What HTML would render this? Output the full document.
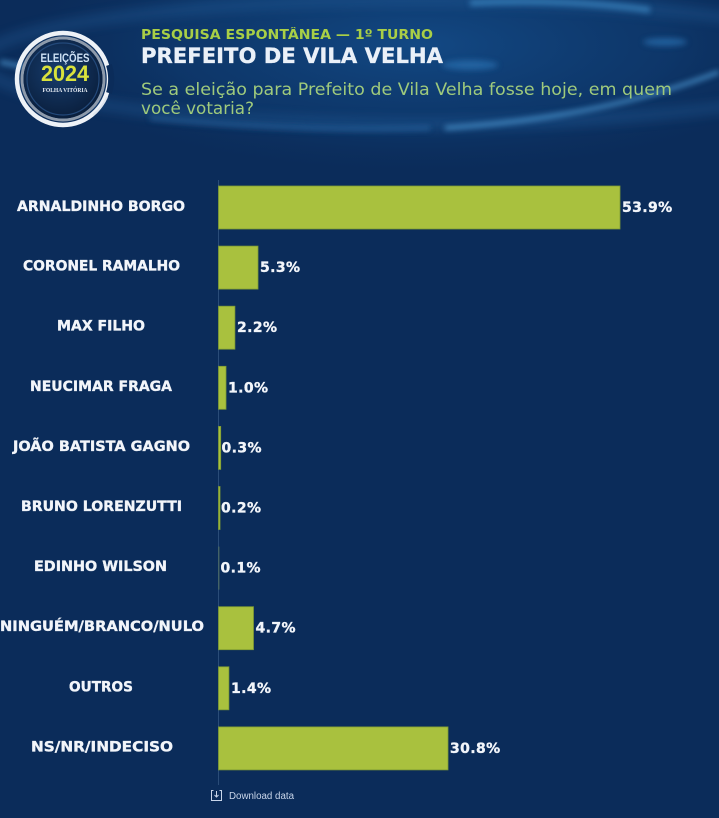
<!DOCTYPE html>
<html>
<head>
<meta charset="utf-8">
<style>
  html,body{margin:0;padding:0;background:#0b2c5a;}
  body{width:719px;height:818px;overflow:hidden;}
  svg{display:block;}
</style>
</head>
<body>
<svg width="719" height="818" viewBox="0 0 719 818" xmlns="http://www.w3.org/2000/svg">
  <defs>
    <radialGradient id="hdr" cx="420" cy="45" r="420" gradientUnits="userSpaceOnUse" gradientTransform="translate(420 45) scale(1 0.32) translate(-420 -45)">
      <stop offset="0" stop-color="#134a86" stop-opacity="0.95"/>
      <stop offset="0.6" stop-color="#0f3d73" stop-opacity="0.6"/>
      <stop offset="1" stop-color="#0b2c5a" stop-opacity="0"/>
    </radialGradient>
    <filter id="blur3" x="-20%" y="-50%" width="140%" height="200%"><feGaussianBlur stdDeviation="3"/></filter>
    <filter id="blur6" x="-20%" y="-80%" width="140%" height="260%"><feGaussianBlur stdDeviation="6"/></filter>
    <radialGradient id="disc" cx="0.45" cy="0.4" r="0.6">
      <stop offset="0" stop-color="#173d6e"/>
      <stop offset="1" stop-color="#0a1f3d"/>
    </radialGradient>
  </defs>

  <!-- background -->
  <rect x="0" y="0" width="719" height="818" fill="#0b2c5a"/>
  <rect x="0" y="0" width="719" height="170" fill="url(#hdr)"/>

  <!-- swooshes -->
  <g filter="url(#blur6)" opacity="0.5">
    <ellipse cx="420" cy="62" rx="440" ry="62" fill="none" stroke="#2f74b5" stroke-width="6"/>
  </g>
  <g filter="url(#blur3)">
    <path d="M445 128 Q 600 118 719 72" fill="none" stroke="#4d97d0" stroke-width="4" opacity="0.85"/>
    <path d="M470 3 Q 560 -2 650 10" fill="none" stroke="#3f8cc8" stroke-width="6" opacity="0.7"/>
    <path d="M0 62 Q 20 66 40 70" fill="none" stroke="#4d97d0" stroke-width="5" opacity="0.7"/>
    <ellipse cx="470" cy="65" rx="28" ry="5" fill="#2a6fb0" opacity="0.7"/>
    <ellipse cx="665" cy="42" rx="22" ry="4" fill="#2a6fb0" opacity="0.7"/>
    <path d="M150 118 Q 300 132 430 128" fill="none" stroke="#2d6eac" stroke-width="4" opacity="0.6"/>
  </g>

  <!-- logo -->
  <g transform="translate(63,79)">
    <circle r="46" fill="none" stroke="#eef2f7" stroke-width="4.5"/>
    <circle r="41" fill="none" stroke="#8d9aab" stroke-width="3"/>
    <circle r="39.5" fill="url(#disc)"/>
    <circle r="36" fill="none" stroke="#23497a" stroke-width="1.2"/>
    <path d="M46 -14 A48 48 0 0 1 46 14" fill="none" stroke="#0b2c5a" stroke-width="6"/>
    <path d="M44 18 A47 47 0 0 1 30 36" fill="none" stroke="#dfe6ee" stroke-width="2"/>
    <text x="2" y="-17" text-anchor="middle" font-family="'Liberation Sans', 'DejaVu Sans', sans-serif" font-weight="bold" font-size="12" fill="#cfe2f5" textLength="49" lengthAdjust="spacingAndGlyphs">ELEIÇÕES</text>
    <text x="2" y="2" text-anchor="middle" font-family="'Liberation Sans', 'DejaVu Sans', sans-serif" font-weight="bold" font-size="22" fill="#d9e23c" textLength="48" lengthAdjust="spacingAndGlyphs">2024</text>
    <text x="2" y="13" text-anchor="middle" font-family="'Liberation Serif', serif" font-weight="bold" font-size="6" fill="#e8eef5" textLength="45" lengthAdjust="spacingAndGlyphs">FOLHA VITÓRIA</text>
  </g>

  <!-- header text -->
  <text x="141" y="39" font-family="'DejaVu Sans', 'Liberation Sans', sans-serif" font-weight="bold" font-size="13" fill="#a9cf46" textLength="292" lengthAdjust="spacingAndGlyphs">PESQUISA ESPONTÂNEA — 1º TURNO</text>
  <text x="141" y="63" font-family="'DejaVu Sans', 'Liberation Sans', sans-serif" font-weight="bold" font-size="21" fill="#eaf0f8" stroke="#eaf0f8" stroke-width="0.3" textLength="302" lengthAdjust="spacingAndGlyphs">PREFEITO DE VILA VELHA</text>
  <text x="141" y="95" font-family="'DejaVu Sans', 'Liberation Sans', sans-serif" font-size="17" fill="#9fca7c" textLength="531" lengthAdjust="spacingAndGlyphs">Se a eleição para Prefeito de Vila Velha fosse hoje, em quem</text>
  <text x="141" y="114" font-family="'DejaVu Sans', 'Liberation Sans', sans-serif" font-size="17" fill="#9fca7c" textLength="113" lengthAdjust="spacingAndGlyphs">você votaria?</text>

  <!-- axis -->
  <line x1="218.5" y1="180" x2="218.5" y2="785" stroke="#2a4c78" stroke-width="1"/>

  <!-- bars -->
  <g fill="#a9c13e" stroke="#7d9a34" stroke-width="0.8">
    <rect x="218.5" y="186" width="401.5" height="43"/>
    <rect x="218.5" y="246.1" width="39.5" height="43"/>
    <rect x="218.5" y="306.2" width="16.4" height="43"/>
    <rect x="218.5" y="366.3" width="7.5" height="43"/>
    <rect x="218.5" y="426.4" width="2.2" height="43"/>
    <rect x="218.5" y="486.5" width="1.5" height="43"/>
    <rect x="218.5" y="546.6" width="0.8" height="43" fill="#5f7a58" stroke="none"/>
    <rect x="218.5" y="606.7" width="35" height="43"/>
    <rect x="218.5" y="666.8" width="10.4" height="43"/>
    <rect x="218.5" y="726.9" width="229.5" height="43"/>
  </g>

  <!-- category labels -->
  <g font-family="'DejaVu Sans', 'Liberation Sans', sans-serif" font-weight="bold" font-size="14" fill="#f2f5fa" stroke="#f2f5fa" stroke-width="0.35" lengthAdjust="spacingAndGlyphs">
    <text x="17" y="211" textLength="168" lengthAdjust="spacingAndGlyphs">ARNALDINHO BORGO</text>
    <text x="23" y="270.6" textLength="157" lengthAdjust="spacingAndGlyphs">CORONEL RAMALHO</text>
    <text x="57" y="330.7" textLength="88" lengthAdjust="spacingAndGlyphs">MAX FILHO</text>
    <text x="30" y="390.8" textLength="142" lengthAdjust="spacingAndGlyphs">NEUCIMAR FRAGA</text>
    <text x="13" y="450.9" textLength="177" lengthAdjust="spacingAndGlyphs">JOÃO BATISTA GAGNO</text>
    <text x="21" y="511" textLength="161" lengthAdjust="spacingAndGlyphs">BRUNO LORENZUTTI</text>
    <text x="34" y="571.1" textLength="133" lengthAdjust="spacingAndGlyphs">EDINHO WILSON</text>
    <text x="0" y="631.2" textLength="204" lengthAdjust="spacingAndGlyphs">NINGUÉM/BRANCO/NULO</text>
    <text x="69" y="691.3" textLength="64" lengthAdjust="spacingAndGlyphs">OUTROS</text>
    <text x="31" y="751.4" textLength="142" lengthAdjust="spacingAndGlyphs">NS/NR/INDECISO</text>
  </g>

  <!-- value labels -->
  <g font-family="'DejaVu Sans', 'Liberation Sans', sans-serif" font-weight="bold" font-size="14" fill="#f2f5fa" stroke="#f2f5fa" stroke-width="0.35" letter-spacing="0.4">
    <text x="622" y="212">53.9%</text>
    <text x="260" y="272.1">5.3%</text>
    <text x="237" y="332.2">2.2%</text>
    <text x="228" y="392.3">1.0%</text>
    <text x="221.5" y="452.4">0.3%</text>
    <text x="221" y="512.5">0.2%</text>
    <text x="220.5" y="572.6">0.1%</text>
    <text x="255.5" y="632.7">4.7%</text>
    <text x="231" y="692.8">1.4%</text>
    <text x="450" y="752.9">30.8%</text>
  </g>

  <!-- download -->
  <g stroke="#c9d6ea" stroke-width="1" fill="none">
    <path d="M213.5 790.5 h-2 v10 h10 v-10 h-2"/>
    <path d="M216.5 791 v6 M214.5 795 l2 2 l2 -2"/>
  </g>
  <text x="229" y="799" font-family="'Liberation Sans', 'DejaVu Sans', sans-serif" font-size="10" fill="#c9d6ea" textLength="65" lengthAdjust="spacingAndGlyphs">Download data</text>
</svg>
</body>
</html>
